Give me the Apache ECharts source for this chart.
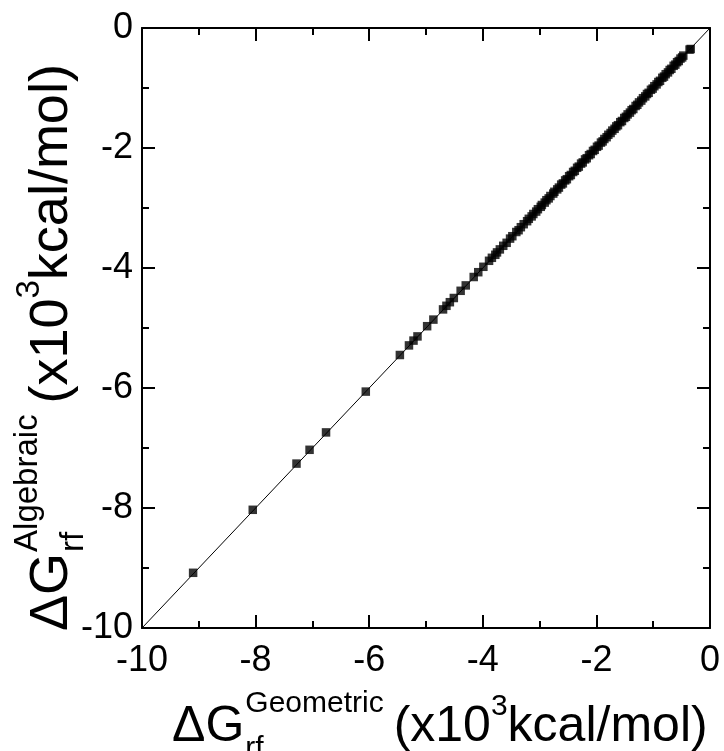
<!DOCTYPE html>
<html>
<head>
<meta charset="utf-8">
<script src="https://cdn.jsdelivr.net/npm/echarts@6/dist/echarts.min.js"></script>
<style>
html,body{margin:0;padding:0;background:#fff;}
#chart{width:724px;height:751px;}
</style>
</head>
<body>
<div id="chart"></div>
<script>
// ---- data (x10^3 kcal/mol) ----
var xGeometric = [
  -9.10, -8.05, -7.28, -7.05, -6.76, -6.06, -5.46, -5.30, -5.22, -5.15,
  -4.98, -4.87, -4.70, -4.64, -4.58, -4.51, -4.39, -4.30, -4.16, -4.08,
  -3.99, -3.89, -3.84, -3.78, -3.75, -3.70, -3.64, -3.58, -3.52, -3.48,
  -3.41, -3.37, -3.33, -3.28, -3.22, -3.19, -3.14, -3.11, -3.06, -3.03,
  -2.98, -2.96, -2.91, -2.88, -2.84, -2.81, -2.76, -2.74, -2.69, -2.66,
  -2.62, -2.59, -2.55, -2.52, -2.48, -2.45, -2.41, -2.38, -2.34, -2.31,
  -2.27, -2.24, -2.20, -2.17, -2.13, -2.10, -2.06, -2.03, -1.99, -1.96,
  -1.92, -1.89, -1.86, -1.82, -1.79, -1.75, -1.72, -1.68, -1.65, -1.62,
  -1.58, -1.55, -1.51, -1.48, -1.45, -1.41, -1.38, -1.35, -1.31, -1.28,
  -1.25, -1.21, -1.18, -1.14, -1.11, -1.08, -1.04, -1.01, -0.98, -0.94,
  -0.91, -0.88, -0.84, -0.81, -0.78, -0.74, -0.71, -0.68, -0.64, -0.61,
  -0.58, -0.55, -0.52, -0.49, -0.47, -0.36, -0.34
];
var yAlgebraic = [
  -9.08, -8.03, -7.26, -7.03, -6.74, -6.06, -5.45, -5.29, -5.21, -5.14,
  -4.97, -4.86, -4.69, -4.63, -4.57, -4.50, -4.38, -4.29, -4.15, -4.07,
  -3.98, -3.88, -3.83, -3.78, -3.74, -3.69, -3.63, -3.58, -3.51, -3.47,
  -3.40, -3.37, -3.32, -3.27, -3.22, -3.18, -3.14, -3.10, -3.06, -3.02,
  -2.98, -2.95, -2.91, -2.87, -2.84, -2.80, -2.76, -2.73, -2.69, -2.66,
  -2.61, -2.59, -2.54, -2.52, -2.47, -2.45, -2.40, -2.38, -2.33, -2.31,
  -2.26, -2.24, -2.19, -2.17, -2.12, -2.10, -2.05, -2.03, -1.98, -1.96,
  -1.91, -1.89, -1.85, -1.82, -1.78, -1.75, -1.71, -1.68, -1.64, -1.62,
  -1.57, -1.55, -1.50, -1.48, -1.44, -1.41, -1.37, -1.35, -1.30, -1.28,
  -1.24, -1.21, -1.17, -1.14, -1.10, -1.08, -1.03, -1.01, -0.97, -0.94,
  -0.90, -0.88, -0.83, -0.81, -0.77, -0.74, -0.70, -0.68, -0.63, -0.61,
  -0.57, -0.55, -0.51, -0.49, -0.46, -0.36, -0.35
];
var refLineX = [-10, 0];
var refLineY = [-10, 0];
var axisMin = -10, axisMax = 0, axisStep = 2;

// ---- build ----
var FONT = '"Liberation Sans", Arial, Helvetica, sans-serif';
var chart = echarts.init(document.getElementById('chart'), null, {renderer: 'canvas'});

var pts = xGeometric.map(function (x, i) { return [x, yAlgebraic[i]]; });
var refPts = refLineX.map(function (x, i) { return [x, refLineY[i]]; });

var ctx = document.createElement('canvas').getContext('2d');
function tw(text, size) { ctx.font = size + 'px ' + FONT; return ctx.measureText(text).width; }

function titleChildren(sup, sub, M, S, supOff, subOff, gap) {
  var items = [];
  var x = 0;
  function add(text, size, dx, dy) {
    items.push({type: 'text', style: {text: text, x: dx, y: dy, font: size + 'px ' + FONT,
      fill: '#000', align: 'left', verticalAlign: 'middle'}});
  }
  add('\u0394G', M, 0, 0);
  x = tw('\u0394G', M) + 1;
  add(sup, S, x, -supOff * M);
  add(sub, S, x, subOff * M);
  x += Math.max(tw(sup, S), tw(sub, S)) + gap * M;
  add('(x10', M, x, 0);
  x += tw('(x10', M);
  add('3', S, x, -0.4 * M);
  x += tw('3', S);
  add('kcal/mol)', M, x, 0);
  x += tw('kcal/mol)', M);
  return {children: items, width: x};
}

var xt = titleChildren('Geometric', 'rf', 50, 30, 0.46, 0.44, 0.2);
var yt = titleChildren('Algebraic', 'rf', 54, 33, 0.45, 0.40, 0.2);

function axisCommon(showLabel, pos, margin) {
  return {
    type: 'value', min: axisMin, max: axisMax, interval: axisStep, position: pos,
    axisLine: {show: true, onZero: false, lineStyle: {color: '#000', width: 2}},
    axisTick: {show: true, inside: true, length: 13, lineStyle: {color: '#000', width: 2}},
    minorTick: {show: true, splitNumber: 2, length: 7, lineStyle: {color: '#000', width: 2}},
    splitLine: {show: false},
    minorSplitLine: {show: false},
    axisLabel: {show: showLabel, color: '#000', fontSize: 36, fontFamily: FONT, margin: margin}
  };
}

var option = {
  animation: false,
  backgroundColor: '#fff',
  grid: {left: 142, right: 14, top: 28, bottom: 123, containLabel: false},
  xAxis: [axisCommon(true, 'bottom', 15), axisCommon(false, 'top', 8)],
  yAxis: [axisCommon(true, 'left', 9), axisCommon(false, 'right', 8)],
  series: [
    {type: 'line', data: refPts, symbol: 'none', xAxisIndex: 0, yAxisIndex: 0,
     lineStyle: {color: '#000', width: 1}, z: 1},
    {type: 'scatter', data: pts, symbol: 'rect', symbolSize: 8.5, xAxisIndex: 0, yAxisIndex: 0,
     itemStyle: {color: '#000'}, z: 2}
  ],
  graphic: [
    {type: 'group', x: 172, y: 727, children: xt.children},
    {type: 'group', x: 52, y: 631, rotation: Math.PI / 2, children: yt.children}
  ]
};
chart.setOption(option);
</script>
</body>
</html>
